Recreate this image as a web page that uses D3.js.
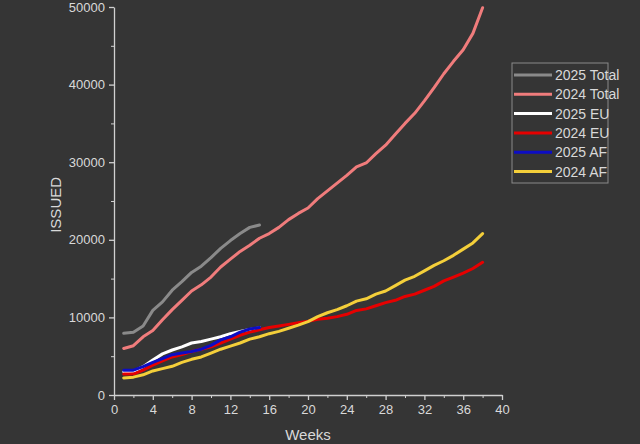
<!DOCTYPE html>
<html>
<head>
<meta charset="utf-8">
<script src="https://cdn.jsdelivr.net/npm/d3@7"></script>
<style>
  html, body { margin: 0; padding: 0; background: #353535; }
  svg { display: block; font-family: "Liberation Sans", Arial, sans-serif; }
</style>
</head>
<body>
<div id="chart"></div>
<script>
// weekly cumulative issued counts
var weeks2025 = [1,2,3,4,5,6,7,8,9,10,11,12,13,14,15];
var weeks2024 = [1,2,3,4,5,6,7,8,9,10,11,12,13,14,15,16,17,18,19,20,21,22,23,24,25,26,27,28,29,30,31,32,33,34,35,36,37,38];

var total2025 = [7950,8100,8900,10900,12000,13500,14600,15800,16600,17700,18900,19900,20800,21600,21900];
var total2024 = [6000,6350,7500,8300,9700,11000,12200,13400,14200,15200,16500,17500,18500,19300,20200,20800,21600,22600,23400,24100,25300,26300,27300,28300,29400,29900,31100,32200,33600,35000,36300,37900,39600,41400,43000,44500,46600,49900];
var eu2025 = [3000,3050,3650,4500,5300,5800,6200,6700,6900,7200,7500,7900,8200,8450,8650];
var eu2024 = [2700,2700,3200,3850,4400,4900,5200,5600,5900,6200,6700,7200,7700,8100,8400,8700,8900,9100,9300,9500,9750,9900,10100,10400,10900,11100,11500,11900,12200,12700,13000,13500,14000,14700,15200,15700,16300,17100];
var af2025 = [3200,3200,3650,4200,4700,5200,5400,5600,5900,6400,7100,7500,8100,8500,8700];
var af2024 = [2200,2300,2600,3100,3400,3700,4200,4600,4900,5400,5900,6300,6700,7200,7500,7900,8200,8600,9000,9450,10100,10600,11000,11500,12100,12400,13000,13400,14100,14800,15300,16000,16700,17300,18000,18800,19600,20800];

var seriesNames = ["2025 Total","2024 Total","2025 EU","2024 EU","2025 AF","2024 AF"];
var seriesColors = ["#8a8a8a","#f07c7c","#ffffff","#e60000","#0d0dc4","#f4cf3a"];

var xTicks = [0,4,8,12,16,20,24,28,32,36,40];
var yTicks = [0,10000,20000,30000,40000,50000];

var series = [
  {name: seriesNames[0], color: seriesColors[0], x: weeks2025, y: total2025},
  {name: seriesNames[1], color: seriesColors[1], x: weeks2024, y: total2024},
  {name: seriesNames[2], color: seriesColors[2], x: weeks2025, y: eu2025},
  {name: seriesNames[3], color: seriesColors[3], x: weeks2024, y: eu2024},
  {name: seriesNames[4], color: seriesColors[4], x: weeks2025, y: af2025},
  {name: seriesNames[5], color: seriesColors[5], x: weeks2024, y: af2024}
];

var W = 640, H = 444;
var margin = {top: 7, right: 138, bottom: 49, left: 114},
    width = W - margin.left - margin.right,
    height = H - margin.top - margin.bottom;

var axisColor = "#d0d0d0", textColor = "#d9d9d9";

var svg = d3.select("#chart").append("svg")
    .attr("width", W)
    .attr("height", H);

var g = svg.append("g")
    .attr("transform", "translate(" + margin.left + "," + margin.top + ")");

var x = d3.scaleLinear().domain([0, 40]).range([0, width]);
var y = d3.scaleLinear().domain([0, 50000]).range([height, 0]);

// minor ticks
g.append("g")
    .attr("transform", "translate(0," + height + ")")
    .call(d3.axisBottom(x).tickValues(d3.range(2, 40, 4)).tickSize(3).tickFormat(""))
    .call(function(a){ a.select(".domain").remove(); a.selectAll("line").attr("stroke", axisColor); });
g.append("g")
    .call(d3.axisLeft(y).tickValues(d3.range(5000, 50000, 10000)).tickSize(3).tickFormat(""))
    .call(function(a){ a.select(".domain").remove(); a.selectAll("line").attr("stroke", axisColor); });

// x axis
var xAxis = g.append("g")
    .attr("transform", "translate(0," + height + ")")
    .call(d3.axisBottom(x).tickValues(xTicks).tickSize(5).tickSizeOuter(0).tickPadding(5));
xAxis.select(".domain").attr("stroke", axisColor).attr("stroke-width", 1.3);
xAxis.selectAll("line").attr("stroke", axisColor).attr("stroke-width", 1.3);
xAxis.selectAll("text").attr("fill", textColor).style("font-size", "13px")
    .style("font-family", "'Liberation Sans', Arial, sans-serif");

// y axis
var yAxis = g.append("g")
    .call(d3.axisLeft(y).tickValues(yTicks).tickSize(5).tickSizeOuter(0).tickPadding(4).tickFormat(d3.format("d")));
yAxis.select(".domain").attr("stroke", axisColor).attr("stroke-width", 1.3);
yAxis.selectAll("line").attr("stroke", axisColor).attr("stroke-width", 1.3);
yAxis.selectAll("text").attr("fill", textColor).style("font-size", "13px")
    .style("font-family", "'Liberation Sans', Arial, sans-serif");

// axis titles
svg.append("text")
    .attr("x", margin.left + x(20))
    .attr("y", 440)
    .attr("text-anchor", "middle")
    .attr("fill", textColor)
    .style("font-size", "15px")
    .text("Weeks");

svg.append("text")
    .attr("transform", "translate(61," + (margin.top + y(24500)) + ") rotate(-90)")
    .attr("text-anchor", "middle")
    .attr("fill", textColor)
    .style("font-size", "15px")
    .text("ISSUED");

// lines
var line = d3.line()
    .x(function(d) { return x(d[0]); })
    .y(function(d) { return y(d[1]); });

series.forEach(function(s) {
    var pts = s.x.map(function(w, i) { return [w, s.y[i]]; });
    g.append("path")
        .datum(pts)
        .attr("fill", "none")
        .attr("stroke", s.color)
        .attr("stroke-width", 3)
        .attr("stroke-linejoin", "round")
        .attr("stroke-linecap", "round")
        .attr("d", line);
});

// legend
var lg = svg.append("g").attr("transform", "translate(512,63)");
lg.append("rect")
    .attr("width", 96)
    .attr("height", 120)
    .attr("fill", "none")
    .attr("stroke", "#8a8a8a")
    .attr("stroke-width", 1);

series.forEach(function(s, i) {
    var cy = 12 + i * 19.3;
    lg.append("line")
        .attr("x1", 2).attr("x2", 40)
        .attr("y1", cy).attr("y2", cy)
        .attr("stroke", s.color)
        .attr("stroke-width", 3);
    lg.append("text")
        .attr("x", 43)
        .attr("y", cy + 5)
        .attr("fill", textColor)
        .style("font-size", "14px")
        .text(s.name);
});
</script>
</body>
</html>
